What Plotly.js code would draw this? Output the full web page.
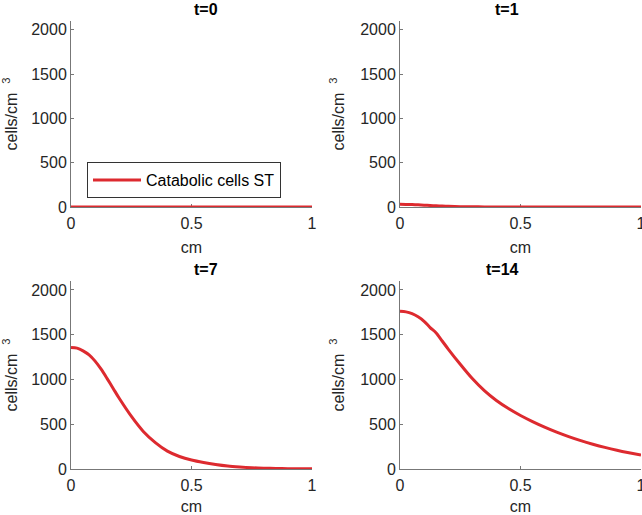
<!DOCTYPE html>
<html>
<head>
<meta charset="utf-8">
<script src="https://cdn.plot.ly/plotly-3.0.1.min.js"></script>
<style>html,body{margin:0;padding:0;background:#fff;}#chart{width:642px;height:515px;}</style>
</head>
<body>
<div id="chart"></div>
<script>
// Data
const xPos = [0, 0.025, 0.05, 0.075, 0.1, 0.125, 0.15, 0.175, 0.2, 0.25, 0.3, 0.35, 0.4, 0.45, 0.5,
              0.55, 0.6, 0.65, 0.7, 0.75, 0.8, 0.85, 0.9, 0.95, 1.0];
const cellsT0  = [0, 0, 0, 0, 0, 0, 0, 0, 0, 0, 0, 0, 0, 0, 0, 0, 0, 0, 0, 0, 0, 0, 0, 0, 0];
const cellsT1  = [30, 29, 27, 24, 21, 17, 14, 11, 8, 4, 2, 1, 0, 0, 0, 0, 0, 0, 0, 0, 0, 0, 0, 0, 0];
const cellsT7  = [1358, 1350, 1320, 1275, 1205, 1115, 1010, 900, 790, 590, 420, 295, 200, 140, 100,
                  72, 50, 33, 22, 14, 9, 6, 4, 3, 2];
const cellsT14 = [1762, 1755, 1735, 1700, 1650, 1580, 1520, 1430, 1340, 1170, 1010, 875, 765, 675, 598,
                  530, 468, 412, 362, 317, 277, 241, 209, 181, 155];
const panelTitles = ["t=0", "t=1", "t=7", "t=14"];
const seriesName = "Catabolic cells ST";
const xTicks = [0, 0.5, 1];
const xTickText = ["0", "0.5", "1"];
const yTicks = [0, 500, 1000, 1500, 2000];

const series = [cellsT0, cellsT1, cellsT7, cellsT14];
const red = "#dd2a2f";
const axes = [["x","y"],["x2","y2"],["x3","y3"],["x4","y4"]];

const traces = series.map((vals, i) => ({
  x: xPos, y: vals, type: "scatter", mode: "lines",
  line: {color: red, width: 3, shape: "spline", smoothing: 0.8},
  name: seriesName, showlegend: i === 0,
  xaxis: axes[i][0], yaxis: axes[i][1], cliponaxis: false
}));

const fontFam = "Liberation Sans, Arial, sans-serif";
const textCol = "#262626";
const xDom = [[71/642, 312/642], [400/642, 641/642]];
const yDom = [[1-207/515, 1-21/515], [1-469/515, 1-281/515]];

function xax(dom, anchor) {
  return {
    domain: dom, anchor: anchor, range: [0, 1],
    tickvals: xTicks, ticktext: xTickText, ticks: "inside", ticklen: 3,
    tickcolor: "#777", showline: true, linecolor: "#777", linewidth: 1,
    showgrid: false, zeroline: false, layer: "below traces",
    ticklabeloverflow: "allow", ticklabelstandoff: 2,
    tickfont: {family: fontFam, size: 16, color: textCol},
    title: {text: "cm", font: {family: fontFam, size: 16, color: textCol}, standoff: 10}
  };
}
function yax(dom, anchor) {
  return {
    domain: dom, anchor: anchor, range: [0, 2100],
    tickvals: yTicks, ticks: "inside", ticklen: 3,
    tickcolor: "#777", showline: true, linecolor: "#777", linewidth: 1,
    showgrid: false, zeroline: false, layer: "below traces",
    ticklabeloverflow: "allow",
    tickfont: {family: fontFam, size: 16, color: textCol},
    title: {text: "cells/cm  <sup>3</sup>", font: {family: fontFam, size: 16, color: textCol}, standoff: 11}
  };
}

const annotations = panelTitles.map((t, i) => ({
  text: "<b>" + t + "</b>", showarrow: false,
  xref: "paper", yref: "paper",
  x: (xDom[i % 2][0] + xDom[i % 2][1]) / 2,
  y: yDom[Math.floor(i / 2)][1], yanchor: "bottom", yshift: 1,
  font: {family: fontFam, size: 16, color: "#000"}
}));

const layout = {
  width: 642, height: 515,
  margin: {l: 0, r: 0, t: 0, b: 0},
  paper_bgcolor: "#fff", plot_bgcolor: "#fff",
  showlegend: true,
  legend: {
    x: 87/642, y: 1-162/515, xanchor: "left", yanchor: "top",
    bordercolor: "#333", borderwidth: 1, bgcolor: "#fff",
    itemwidth: 48,
    font: {family: fontFam, size: 16, color: "#000"}
  },
  xaxis: xax(xDom[0], "y"), yaxis: yax(yDom[0], "x"),
  xaxis2: xax(xDom[1], "y2"), yaxis2: yax(yDom[0], "x2"),
  xaxis3: xax(xDom[0], "y3"), yaxis3: yax(yDom[1], "x3"),
  xaxis4: xax(xDom[1], "y4"), yaxis4: yax(yDom[1], "x4"),
  annotations: annotations
};

Plotly.newPlot("chart", traces, layout, {displayModeBar: false, staticPlot: true});
</script>
</body>
</html>
